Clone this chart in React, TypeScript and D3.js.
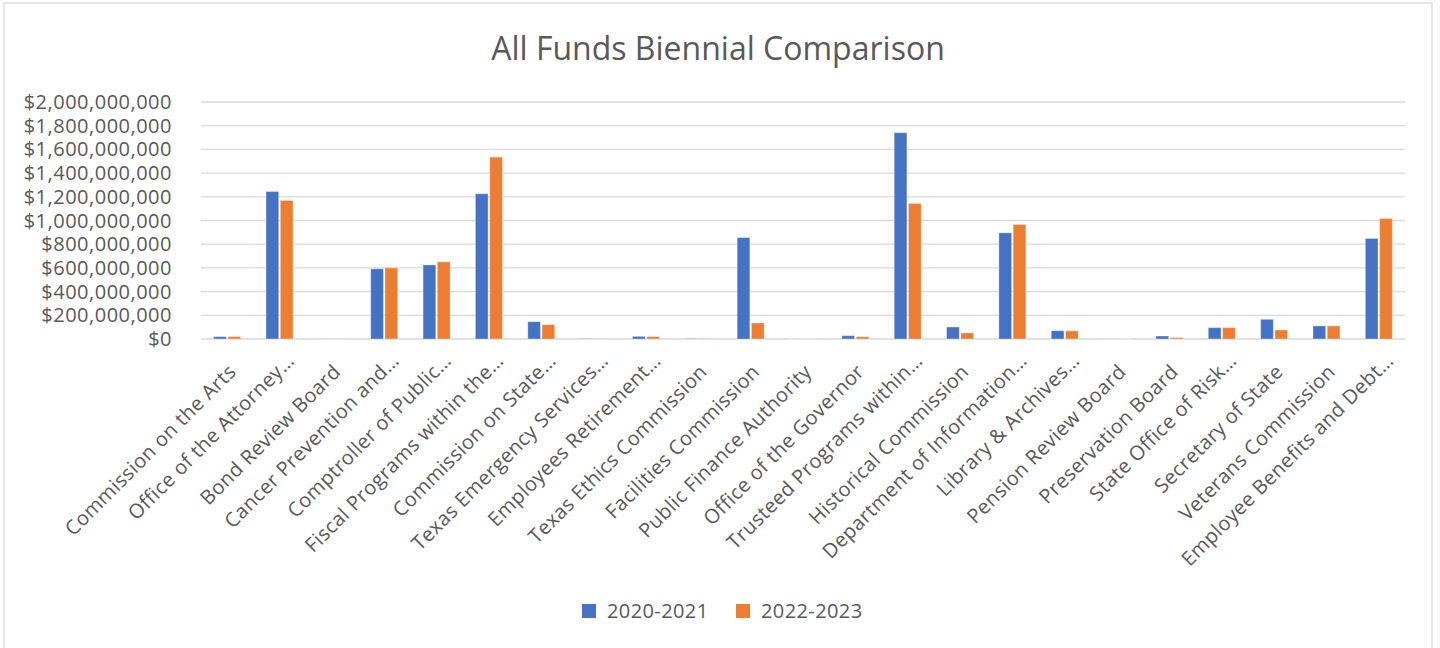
import React from "react";
import * as d3 from "d3";

// agencies, in chart order (Excel truncates long names with an ellipsis)
const categories = [
  "Commission on the Arts",
  "Office of the Attorney…",
  "Bond Review Board",
  "Cancer Prevention and…",
  "Comptroller of Public…",
  "Fiscal Programs within the…",
  "Commission on State…",
  "Texas Emergency Services…",
  "Employees Retirement…",
  "Texas Ethics Commission",
  "Facilities Commission",
  "Public Finance Authority",
  "Office of the Governor",
  "Trusteed Programs within…",
  "Historical Commission",
  "Department of Information…",
  "Library & Archives…",
  "Pension Review Board",
  "Preservation Board",
  "State Office of Risk…",
  "Secretary of State",
  "Veterans Commission",
  "Employee Benefits and Debt…",
];

const seriesNames = ["2020-2021", "2022-2023"];

// millions of dollars
const funds2020 = [
  20, 1245, 1, 592, 625, 1226, 146, 2, 22, 3, 856, 0.3, 28, 1741, 101, 896, 70,
  0.3, 25, 96, 166, 110, 848,
];
const funds2022 = [
  20, 1169, 1, 600, 651, 1535, 121, 2, 20, 3, 135, 0.3, 19, 1144, 51, 966, 68,
  0.3, 12, 96, 76, 110, 1017,
];

const yTicks = [0, 200, 400, 600, 800, 1000, 1200, 1400, 1600, 1800, 2000];

const COLORS = ["#4472C4", "#ED7D31"];
const TEXT = "#595959";
const GRID = "#D9D9D9";
const FONT = "'Open Sans', 'Noto Sans', sans-serif";

const W = 1440;
const H = 648;
const plot = { left: 201, right: 1405, top: 102, bottom: 339 };

const fmt = (m: number) =>
  m === 0 ? "$0" : "$" + d3.format(",")(Math.round(m * 1e6));

export default function App() {
  const x0 = d3
    .scaleBand<string>()
    .domain(categories)
    .range([plot.left, plot.right])
    .paddingInner(0.484)
    .paddingOuter(0.242);

  const x1 = d3
    .scaleBand<string>()
    .domain(seriesNames)
    .range([0, x0.bandwidth()])
    .paddingInner(0.11);

  const y = d3
    .scaleLinear()
    .domain([0, 2000])
    .range([plot.bottom, plot.top]);

  const series = [funds2020, funds2022];

  return (
    <div style={{ position: "absolute", left: 0, top: 0 }}>
      <svg width={W} height={H} style={{ display: "block", fontFamily: FONT }}>
        <rect x={0} y={0} width={W} height={H} fill="#fff" />
        <rect
          x={4}
          y={3}
          width={1428}
          height={H + 20}
          fill="none"
          stroke={GRID}
          strokeWidth={1.3}
        />

        <text x={718} y={60} textAnchor="middle" fontSize={32} fill={TEXT}>
          All Funds Biennial Comparison
        </text>

        {/* gridlines + y labels */}
        {yTicks.map((t) => (
          <g key={t}>
            <line
              x1={plot.left}
              x2={plot.right}
              y1={y(t)}
              y2={y(t)}
              stroke={GRID}
              strokeWidth={1.3}
            />
            <text
              x={172}
              y={y(t)}
              dy="0.35em"
              textAnchor="end"
              fontSize={20}
              letterSpacing={0.5}
              fill={TEXT}
            >
              {fmt(t)}
            </text>
          </g>
        ))}

        {/* bars */}
        {categories.map((c, i) => (
          <g key={c} transform={`translate(${x0(c)},0)`}>
            {series.map((s, j) => (
              <rect
                key={j}
                x={x1(seriesNames[j])}
                y={y(s[i])}
                width={x1.bandwidth()}
                height={y(0) - y(s[i])}
                fill={COLORS[j]}
                stroke="#fff"
                strokeOpacity={0.35}
                strokeWidth={1}
              />
            ))}
          </g>
        ))}

        {/* category labels, rotated -45 */}
        {categories.map((c) => {
          const cx = (x0(c) ?? 0) + x0.bandwidth() / 2;
          const cut = c.endsWith("…");
          const ax = cx + (cut ? 16 : 10);
          const ay = plot.bottom + (cut ? 23 : 34);
          return (
            <text
              key={c}
              transform={`translate(${ax},${ay}) rotate(-45)`}
              textAnchor="end"
              fontSize={20}
              letterSpacing={0.4}
              fill={TEXT}
            >
              {c}
            </text>
          );
        })}

        {/* legend */}
        {seriesNames.map((n, j) => {
          const lx = [582, 736][j];
          return (
            <g key={n}>
              <rect x={lx} y={604} width={14} height={14} fill={COLORS[j]} />
              <text
                x={lx + 25}
                y={618}
                fontSize={20}
                letterSpacing={0.4}
                fill={TEXT}
              >
                {n}
              </text>
            </g>
          );
        })}
      </svg>
    </div>
  );
}
